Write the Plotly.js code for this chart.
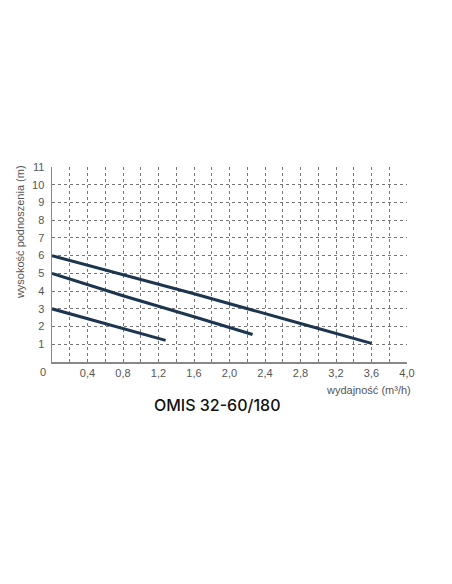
<!DOCTYPE html>
<html>
<head>
<meta charset="utf-8">
<script src="https://cdn.plot.ly/plotly-3.0.1.min.js"></script>
<style>
  html, body { margin: 0; padding: 0; background: #fff; }
  #chart { width: 452px; height: 584px; }
</style>
</head>
<body>
<div id="chart"></div>
<script>
// pump curves: flow (m3/h) -> head (m)
var flowA = [0, 0.8, 1.6, 2.8, 3.6];
var headA = [6.0, 4.92, 3.85, 2.17, 1.05];

var flowB = [0, 0.8, 1.6, 2.26];
var headB = [5.0, 3.74, 2.55, 1.55];

var flowC = [0, 0.8, 1.28];
var headC = [3.0, 1.9, 1.22];

var xTicks = [0.4, 0.8, 1.2, 1.6, 2.0, 2.4, 2.8, 3.2, 3.6, 4.0];
var yTicks = [1, 2, 3, 4, 5, 6, 7, 8, 9, 10, 11];

var lineStyle = { color: '#1d3650', width: 3 };

function curve(x, y) {
    return { x: x, y: y, mode: 'lines', type: 'scatter', line: lineStyle, hoverinfo: 'skip' };
}

var plotData = [curve(flowA, headA), curve(flowB, headB), curve(flowC, headC)];

var tickFont = { family: 'Liberation Sans, Arial, sans-serif', size: 11, color: '#555' };

var layout = {
    width: 452,
    height: 584,
    margin: { l: 52, r: 45, t: 167, b: 222 },
    paper_bgcolor: '#fff',
    plot_bgcolor: '#fff',
    showlegend: false,
    separators: ',.',
    xaxis: {
        range: [0, 4.0],
        tickvals: xTicks,
        tickformat: '.1f',
        tickfont: tickFont,
        ticks: '',
        showgrid: true,
        gridcolor: '#777',
        griddash: 'dot',
        gridwidth: 1,
        minor: { dtick: 0.2, tick0: 0, showgrid: true, gridcolor: '#777', griddash: 'dot', gridwidth: 1 },
        showline: true,
        linecolor: '#888',
        linewidth: 1.5,
        zeroline: false,
        fixedrange: true
    },
    yaxis: {
        range: [0, 11],
        tickvals: yTicks,
        tickfont: tickFont,
        ticks: '',
        ticklabelstandoff: 4,
        showgrid: true,
        gridcolor: '#777',
        griddash: 'dot',
        gridwidth: 1,
        showline: true,
        linecolor: '#888',
        linewidth: 1.5,
        zeroline: false,
        fixedrange: true
    },
    annotations: [
        { text: '0', xref: 'paper', yref: 'paper', x: 0, y: 0, xanchor: 'right', yanchor: 'top',
          xshift: -4, yshift: -2, showarrow: false, font: tickFont },
        { text: 'wysokość podnoszenia (m)', xref: 'paper', yref: 'paper', x: 0, y: 1.02,
          xanchor: 'right', yanchor: 'top', xshift: -24, textangle: -90, showarrow: false,
          font: { family: 'Liberation Sans, Arial, sans-serif', size: 11, color: '#555' } },
        { text: 'wydajność (m³/h)', xref: 'paper', yref: 'paper', x: 1, y: 0, xanchor: 'right',
          yanchor: 'top', xshift: 6, yshift: -20, showarrow: false,
          font: { family: 'Liberation Sans, Arial, sans-serif', size: 11, color: '#555' } },
        { text: 'OMIS 32-60/180', xref: 'paper', yref: 'paper', x: 0.465, y: 0, xanchor: 'center',
          yanchor: 'middle', yshift: -43, showarrow: false,
          font: { family: 'Inter, Lato, sans-serif', size: 16, color: '#111', weight: 500 } }
    ]
};

Plotly.newPlot('chart', plotData, layout, { displayModeBar: false, staticPlot: true });
</script>
</body>
</html>
